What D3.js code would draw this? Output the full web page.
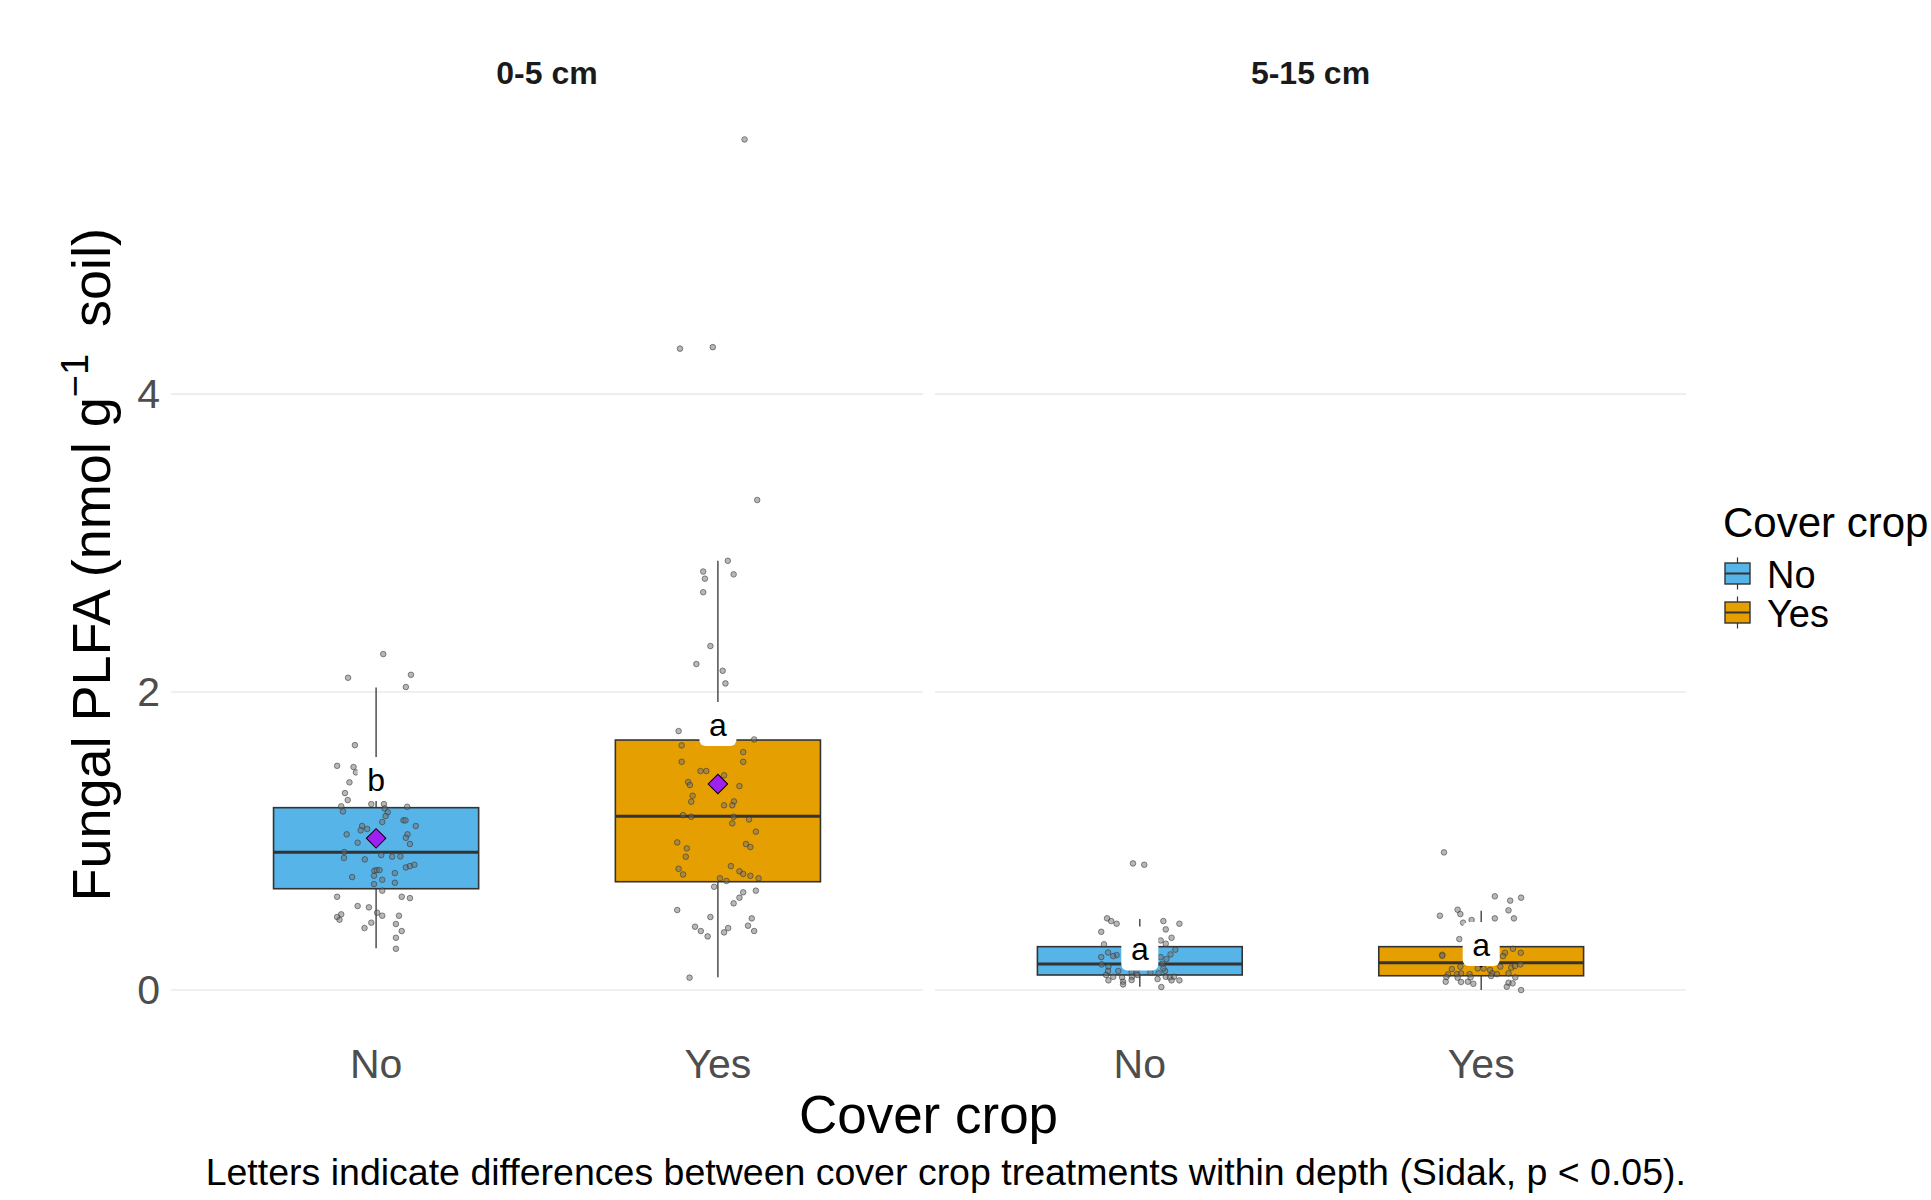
<!DOCTYPE html>
<html>
<head>
<meta charset="utf-8">
<script src="https://cdn.jsdelivr.net/npm/d3@7"></script>
<style>
  body { margin: 0; background: #fff; }
  text { font-family: "Liberation Sans", Arial, sans-serif; }
</style>
</head>
<body>
<svg id="chart" width="1931" height="1200"></svg>
<script>
// facets and groups
const depths = ["0-5 cm", "5-15 cm"];
const coverCrop = ["No", "Yes"];
const fillColors = ["#56B4E9", "#E69F00"];
const yTicks = [0, 2, 4];

// box statistics, group order: 0-5 No, 0-5 Yes, 5-15 No, 5-15 Yes
const whiskerLow = [0.28, 0.085, 0.022, 0.0];
const lowerQuartile = [0.68, 0.727, 0.101, 0.096];
const medians = [0.924, 1.166, 0.174, 0.183];
const upperQuartile = [1.224, 1.678, 0.291, 0.291];
const whiskerHigh = [2.03, 2.881, 0.477, 0.532];
const groupMeans = [1.018, 1.383, 0.2, 0.22];
const letters = ["b", "a", "a", "a"];
const letterY = [1.416, 1.785, 0.279, 0.309];

// raw observations: [value, jitter offset in category units]
const pointsShallowNo = [
  [2.255, 0.021], [2.096, -0.082], [2.116, 0.102], [2.034, 0.087], [1.644, -0.062],
  [1.505, -0.114], [1.497, -0.066], [1.461, -0.059], [1.394, -0.078], [1.322, -0.091],
  [1.275, -0.083], [1.233, -0.102], [1.199, -0.097], [1.248, -0.014], [1.248, 0.023],
  [1.219, 0.025], [1.193, 0.034], [1.168, 0.028], [1.128, 0.018], [1.230, 0.091],
  [1.139, 0.080], [1.139, 0.086], [1.101, 0.116], [1.101, -0.041], [1.072, -0.045],
  [1.081, -0.026], [1.045, -0.086], [1.045, 0.092], [1.022, 0.087], [0.980, 0.099],
  [0.989, -0.054], [0.926, -0.093], [0.886, -0.094], [0.877, -0.033], [0.906, 0.015],
  [0.895, 0.047], [0.897, 0.071], [0.823, 0.087], [0.832, 0.099], [0.841, 0.112],
  [0.801, -0.005], [0.805, 0.002], [0.805, 0.010], [0.785, 0.055], [0.767, -0.006],
  [0.758, -0.070], [0.740, 0.018], [0.720, 0.055], [0.711, -0.006], [0.667, 0.018],
  [0.626, -0.114], [0.626, 0.075], [0.617, 0.099], [0.564, -0.054], [0.555, -0.021],
  [0.519, 0.003], [0.499, 0.018], [0.499, 0.067], [0.508, -0.102], [0.490, -0.114],
  [0.472, -0.107], [0.452, -0.014], [0.416, -0.034], [0.443, 0.058], [0.396, 0.075],
  [0.351, 0.058], [0.277, 0.058]
];
const pointsShallowYes = [
  [5.709, 0.078], [4.305, -0.111], [4.315, -0.015], [3.289, 0.115], [2.881, 0.029],
  [2.809, -0.043], [2.761, -0.038], [2.790, 0.046], [2.670, -0.043], [2.309, -0.022],
  [2.188, -0.063], [2.143, 0.014], [2.058, 0.022], [1.738, -0.115], [1.682, 0.106],
  [1.642, -0.106], [1.597, 0.074], [1.532, 0.074], [1.532, -0.106], [1.470, -0.051],
  [1.470, -0.034], [1.441, 0.018], [1.396, -0.087], [1.376, -0.082], [1.369, 0.063],
  [1.304, -0.074], [1.264, -0.078], [1.266, 0.047], [1.240, 0.018], [1.240, 0.042],
  [1.174, -0.102], [1.163, -0.078], [1.163, 0.046], [1.145, 0.091], [1.119, 0.042],
  [1.063, 0.111], [0.991, -0.119], [0.980, 0.082], [0.960, 0.095], [0.951, -0.091],
  [0.895, -0.094], [0.832, 0.038], [0.814, -0.115], [0.797, 0.063], [0.779, 0.074],
  [0.776, -0.102], [0.767, 0.095], [0.750, 0.119], [0.750, 0.006], [0.732, 0.025],
  [0.693, -0.011], [0.667, 0.111], [0.656, 0.074], [0.620, 0.063], [0.582, 0.046],
  [0.537, -0.119], [0.490, -0.022], [0.481, 0.099], [0.432, 0.088], [0.425, -0.067],
  [0.396, -0.050], [0.360, -0.030], [0.416, 0.030], [0.387, 0.018], [0.396, 0.106],
  [0.083, -0.083]
];
const pointsDeepNo = [
  [0.850, -0.020], [0.841, 0.013], [0.481, -0.096], [0.463, -0.084], [0.445, -0.068],
  [0.463, 0.069], [0.445, 0.116], [0.391, -0.113], [0.407, 0.076], [0.351, 0.093],
  [0.333, 0.061], [0.307, -0.105], [0.311, 0.076], [0.271, 0.104], [0.252, -0.093],
  [0.221, -0.113], [0.235, -0.068], [0.239, 0.090], [0.221, 0.061], [0.208, 0.078],
  [0.157, -0.092], [0.176, 0.066], [0.128, -0.093], [0.128, -0.063], [0.121, -0.024],
  [0.112, -0.010], [0.118, 0.031], [0.128, 0.074], [0.101, -0.099], [0.089, -0.078],
  [0.085, -0.052], [0.089, -0.023], [0.101, -0.007], [0.112, 0.055], [0.089, 0.076],
  [0.085, 0.088], [0.089, 0.100], [0.065, -0.092], [0.056, -0.049], [0.038, -0.049],
  [0.067, -0.024], [0.074, 0.052], [0.065, 0.093], [0.065, 0.116], [0.020, 0.063],
  [0.228, -0.078], [0.172, -0.112], [0.145, 0.069]
];
const pointsDeepYes = [
  [0.924, -0.109], [0.629, 0.040], [0.600, 0.085], [0.620, 0.117], [0.535, 0.080],
  [0.539, -0.069], [0.510, -0.061], [0.499, -0.121], [0.470, -0.028], [0.452, -0.053],
  [0.481, 0.040], [0.481, 0.096], [0.342, -0.064], [0.237, -0.114], [0.230, -0.114],
  [0.250, 0.070], [0.277, 0.093], [0.250, 0.116], [0.228, 0.064], [0.157, 0.056],
  [0.141, -0.086], [0.157, -0.061], [0.145, -0.010], [0.145, 0.007], [0.134, 0.026],
  [0.150, 0.088], [0.161, 0.099], [0.172, 0.115], [0.105, -0.097], [0.107, -0.071],
  [0.112, -0.059], [0.107, -0.034], [0.112, 0.032], [0.107, 0.046], [0.112, 0.080],
  [0.087, -0.102], [0.083, -0.069], [0.085, -0.031], [0.085, 0.100], [0.056, -0.104],
  [0.054, -0.059], [0.056, -0.039], [0.042, -0.023], [0.049, 0.080], [0.022, 0.075],
  [0.045, 0.092], [0.0, 0.117], [0.094, 0.029]
];
const groupPoints = [pointsShallowNo, pointsShallowYes, pointsDeepNo, pointsDeepYes];

const svg = d3.select('#chart');

// layout
const panelTop = 97, panelBottom = 1032.5;
const panelRanges = [[171, 923], [935, 1686]];
const darkLine = "#333333";

const y = d3.scaleLinear()
    .domain([-0.285, 5.994])
    .range([panelBottom, panelTop]);

panelRanges.forEach((range, pi) => {
    const panel = svg.append("g");

    const x = d3.scaleBand()
        .domain(coverCrop)
        .range(range)
        .paddingInner(0)
        .paddingOuter(0.1);
    const bw = x.bandwidth();
    const boxW = bw * 0.6;

    // horizontal grid
    panel.selectAll("line.grid")
        .data(yTicks)
        .join("line")
        .attr("class", "grid")
        .attr("x1", range[0])
        .attr("x2", range[1])
        .attr("y1", d => y(d))
        .attr("y2", d => y(d))
        .attr("stroke", "#EBEBEB")
        .attr("stroke-width", 1.6);

    // strip label
    svg.append("text")
        .attr("x", (range[0] + range[1]) / 2)
        .attr("y", 84)
        .attr("text-anchor", "middle")
        .attr("font-weight", "bold")
        .attr("font-size", 32)
        .attr("fill", "#1A1A1A")
        .text(depths[pi]);

    // x axis
    const xAxis = svg.append("g")
        .attr("transform", `translate(0, ${panelBottom})`)
        .call(d3.axisBottom(x).tickSize(0).tickPadding(16));
    xAxis.select(".domain").remove();
    xAxis.selectAll("text")
        .attr("font-size", 41)
        .attr("font-family", "Liberation Sans, Arial, sans-serif")
        .attr("fill", "#4D4D4D");

    coverCrop.forEach((cc, ci) => {
        const gi = pi * 2 + ci;
        const cx = x(cc) + bw / 2;

        // whiskers
        panel.append("line")
            .attr("x1", cx).attr("x2", cx)
            .attr("y1", y(upperQuartile[gi])).attr("y2", y(whiskerHigh[gi]))
            .attr("stroke", darkLine).attr("stroke-width", 1.3);
        panel.append("line")
            .attr("x1", cx).attr("x2", cx)
            .attr("y1", y(lowerQuartile[gi])).attr("y2", y(whiskerLow[gi]))
            .attr("stroke", darkLine).attr("stroke-width", 1.3);

        // box
        panel.append("rect")
            .attr("x", cx - boxW / 2)
            .attr("y", y(upperQuartile[gi]))
            .attr("width", boxW)
            .attr("height", y(lowerQuartile[gi]) - y(upperQuartile[gi]))
            .attr("fill", fillColors[ci])
            .attr("stroke", darkLine)
            .attr("stroke-width", 1.6);

        // median
        panel.append("line")
            .attr("x1", cx - boxW / 2).attr("x2", cx + boxW / 2)
            .attr("y1", y(medians[gi])).attr("y2", y(medians[gi]))
            .attr("stroke", darkLine).attr("stroke-width", 3);

        // jittered observations
        panel.selectAll(null)
            .data(groupPoints[gi])
            .join("circle")
            .attr("cx", d => cx + d[1] * bw)
            .attr("cy", d => y(d[0]))
            .attr("r", 2.8)
            .attr("fill", "#707070")
            .attr("fill-opacity", 0.5)
            .attr("stroke", "#333")
            .attr("stroke-opacity", 0.55)
            .attr("stroke-width", 1);

        // mean diamond
        panel.append("path")
            .attr("d", d3.symbol(d3.symbolSquare, 190)())
            .attr("transform", `translate(${cx}, ${y(groupMeans[gi])}) rotate(45)`)
            .attr("fill", "#A020F0")
            .attr("stroke", "#000")
            .attr("stroke-width", 1);

        // significance letter
        const ly = y(letterY[gi]);
        panel.append("rect")
            .attr("x", cx - 18.5)
            .attr("y", ly - 22)
            .attr("width", 37)
            .attr("height", 44)
            .attr("rx", 6)
            .attr("fill", "#fff");
        panel.append("text")
            .attr("x", cx)
            .attr("y", ly)
            .attr("dy", "0.36em")
            .attr("text-anchor", "middle")
            .attr("font-size", 32)
            .attr("fill", "#000")
            .text(letters[gi]);
    });
});

// y axis
const yAxis = svg.append("g")
    .attr("transform", `translate(${panelRanges[0][0]}, 0)`)
    .call(d3.axisLeft(y).tickValues(yTicks).tickFormat(d3.format("d")).tickSize(0).tickPadding(11));
yAxis.select(".domain").remove();
yAxis.selectAll("text")
    .attr("font-size", 41)
    .attr("font-family", "Liberation Sans, Arial, sans-serif")
    .attr("fill", "#4D4D4D");

// y title with superscript
const yTitle = svg.append("text")
    .attr("transform", `translate(110, ${(panelTop + panelBottom) / 2}) rotate(-90)`)
    .attr("text-anchor", "middle")
    .attr("font-size", 54)
    .attr("fill", "#000");
yTitle.append("tspan").text("Fungal PLFA (nmol g");
yTitle.append("tspan").attr("dy", -22).attr("font-size", 38).text("\u22121");
yTitle.append("tspan").attr("dy", 22).text("\u2002soil)");

// x title
svg.append("text")
    .attr("x", (panelRanges[0][0] + panelRanges[1][1]) / 2)
    .attr("y", 1133)
    .attr("text-anchor", "middle")
    .attr("font-size", 53)
    .attr("fill", "#000")
    .text("Cover crop");

// caption
svg.append("text")
    .attr("x", panelRanges[1][1])
    .attr("y", 1185)
    .attr("text-anchor", "end")
    .attr("font-size", 37.5)
    .attr("fill", "#000")
    .text("Letters indicate differences between cover crop treatments within depth (Sidak, p < 0.05).");

// legend
const legend = svg.append("g").attr("transform", "translate(1723, 0)");
legend.append("text")
    .attr("x", 0)
    .attr("y", 537)
    .attr("font-size", 42)
    .attr("fill", "#000")
    .text("Cover crop");

const keyCenters = [573.5, 612.5];
coverCrop.forEach((cc, ci) => {
    const kc = keyCenters[ci];
    const key = legend.append("g");
    key.append("line")
        .attr("x1", 14.5).attr("x2", 14.5)
        .attr("y1", kc - 16).attr("y2", kc + 16)
        .attr("stroke", darkLine).attr("stroke-width", 1.2);
    key.append("rect")
        .attr("x", 2).attr("y", kc - 10.5)
        .attr("width", 25).attr("height", 21)
        .attr("fill", fillColors[ci])
        .attr("stroke", darkLine).attr("stroke-width", 1.4);
    key.append("line")
        .attr("x1", 2).attr("x2", 27)
        .attr("y1", kc).attr("y2", kc)
        .attr("stroke", darkLine).attr("stroke-width", 2);
    legend.append("text")
        .attr("x", 44)
        .attr("y", kc + 14)
        .attr("font-size", 38)
        .attr("fill", "#000")
        .text(cc);
});
</script>
</body>
</html>
